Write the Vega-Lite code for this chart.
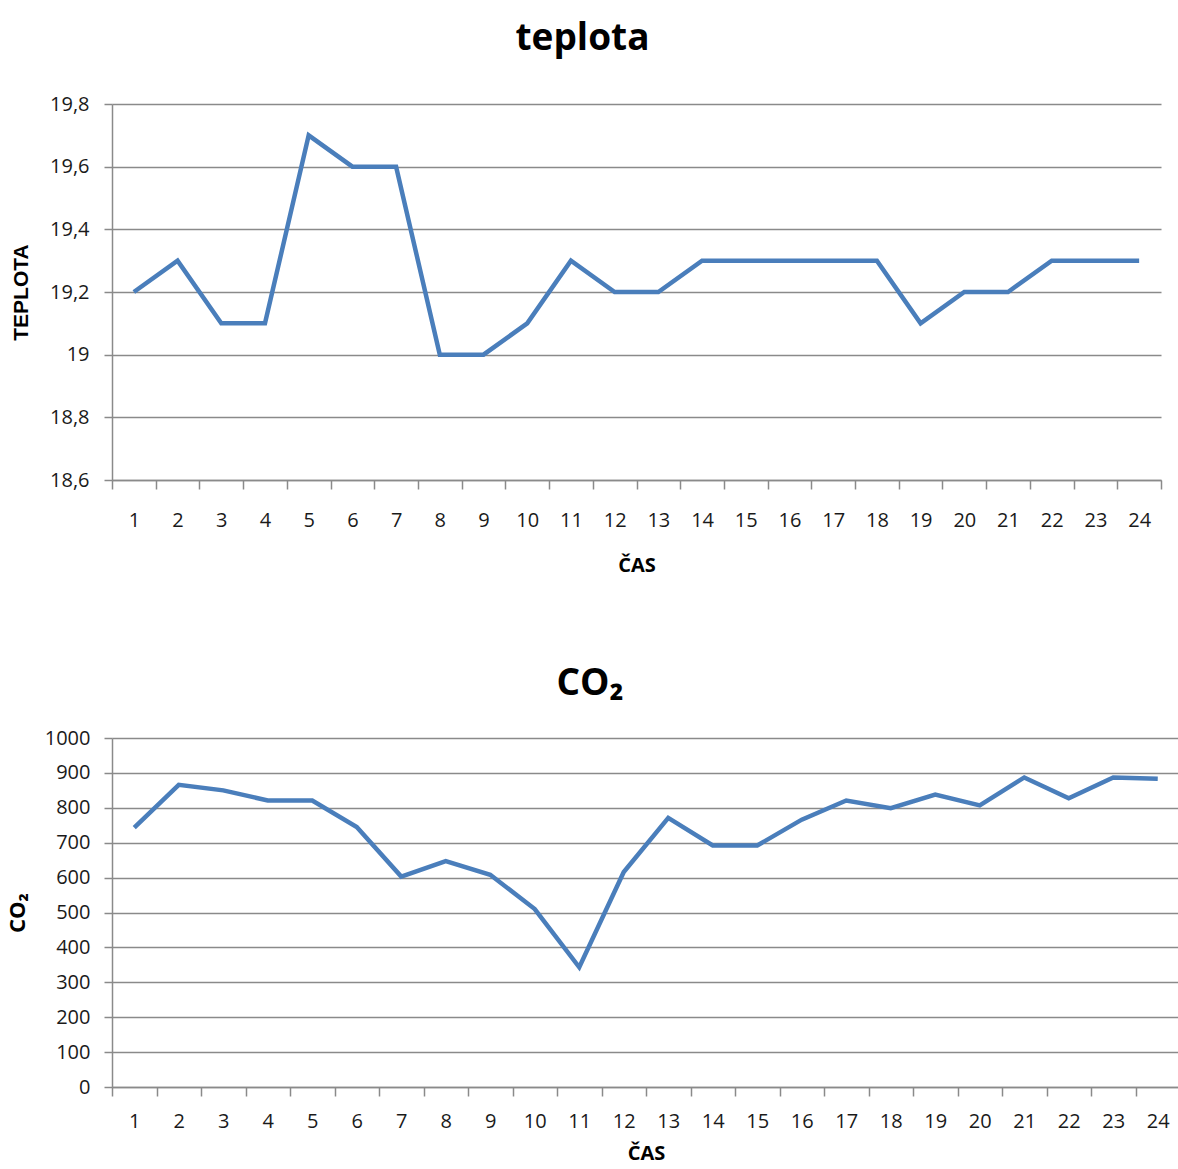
{
  "$schema": "https://vega.github.io/schema/vega-lite/v6.json",
  "padding": {"left": 6, "top": 20, "right": 0, "bottom": 6},
  "background": "white",
  "datasets": {
    "teplota": [
      {"cas": 1, "teplota": 19.2}, {"cas": 2, "teplota": 19.3}, {"cas": 3, "teplota": 19.1}, {"cas": 4, "teplota": 19.1},
      {"cas": 5, "teplota": 19.7}, {"cas": 6, "teplota": 19.6}, {"cas": 7, "teplota": 19.6}, {"cas": 8, "teplota": 19.0},
      {"cas": 9, "teplota": 19.0}, {"cas": 10, "teplota": 19.1}, {"cas": 11, "teplota": 19.3}, {"cas": 12, "teplota": 19.2},
      {"cas": 13, "teplota": 19.2}, {"cas": 14, "teplota": 19.3}, {"cas": 15, "teplota": 19.3}, {"cas": 16, "teplota": 19.3},
      {"cas": 17, "teplota": 19.3}, {"cas": 18, "teplota": 19.3}, {"cas": 19, "teplota": 19.1}, {"cas": 20, "teplota": 19.2},
      {"cas": 21, "teplota": 19.2}, {"cas": 22, "teplota": 19.3}, {"cas": 23, "teplota": 19.3}, {"cas": 24, "teplota": 19.3}
    ],
    "co2": [
      {"cas": 1, "co2": 743}, {"cas": 2, "co2": 866}, {"cas": 3, "co2": 850}, {"cas": 4, "co2": 821},
      {"cas": 5, "co2": 821}, {"cas": 6, "co2": 745}, {"cas": 7, "co2": 603}, {"cas": 8, "co2": 647},
      {"cas": 9, "co2": 608}, {"cas": 10, "co2": 510}, {"cas": 11, "co2": 343}, {"cas": 12, "co2": 616},
      {"cas": 13, "co2": 771}, {"cas": 14, "co2": 692}, {"cas": 15, "co2": 692}, {"cas": 16, "co2": 766},
      {"cas": 17, "co2": 821}, {"cas": 18, "co2": 799}, {"cas": 19, "co2": 838}, {"cas": 20, "co2": 807},
      {"cas": 21, "co2": 887}, {"cas": 22, "co2": 827}, {"cas": 23, "co2": 887}, {"cas": 24, "co2": 883}
    ]
  },
  "bounds": "flush",
  "spacing": 258,
  "config": {
    "view": {"stroke": null},
    "font": "Open Sans",
    "axis": {
      "labelFont": "Open Sans", "labelFontSize": 20, "labelColor": "#1a1a1a",
      "titleFont": "Open Sans", "titleFontWeight": "bold", "titleFontSize": 20, "titleColor": "#000",
      "domainColor": "#8a8a8a", "domainWidth": 1.5, "tickColor": "#8a8a8a", "tickWidth": 1.5, "tickSize": 8,
      "gridColor": "#8a8a8a", "gridWidth": 1.5
    },
    "title": {"font": "Open Sans", "fontWeight": "bold", "color": "#000", "anchor": "middle"}
  },
  "vconcat": [
    {
      "title": {"text": "teplota", "fontSize": 37, "offset": 36, "dx": -54},
      "width": 1049,
      "height": 376,
      "data": {"name": "teplota"},
      "mark": {"type": "line", "color": "#4A7EBB", "strokeWidth": 4.5, "strokeJoin": "miter"},
      "encoding": {
        "x": {
          "field": "cas", "type": "ordinal", "title": "ČAS",
          "scale": {"type": "band", "paddingInner": 0, "paddingOuter": 0},
          "axis": {"labelAngle": 0, "tickBand": "extent", "grid": false, "labelPadding": 21, "titlePadding": 25, "tickSize": 9}
        },
        "y": {
          "field": "teplota", "type": "quantitative", "title": "TEPLOTA",
          "scale": {"domain": [18.6, 19.8], "nice": false, "zero": false},
          "axis": {"values": [18.6, 18.8, 19.0, 19.2, 19.4, 19.6, 19.8], "labelExpr": "replace(format(datum.value, '.1~f'), '.', ',')",
                   "labelPadding": 15, "titleX": -91, "titleBaseline": "middle", "titleFont": "Liberation Sans", "titleFontSize": 21, "domain": true}
        }
      }
    },
    {
      "title": {"text": "CO₂", "fontSize": 37, "offset": 25, "dx": -56},
      "width": 1068,
      "height": 349,
      "data": {"name": "co2"},
      "mark": {"type": "line", "color": "#4A7EBB", "strokeWidth": 4.5, "strokeJoin": "miter"},
      "encoding": {
        "x": {
          "field": "cas", "type": "ordinal", "title": "ČAS",
          "scale": {"type": "band", "paddingInner": 0, "paddingOuter": 0},
          "axis": {"labelAngle": 0, "tickBand": "extent", "grid": false, "labelPadding": 15, "titlePadding": 12, "tickSize": 9}
        },
        "y": {
          "field": "co2", "type": "quantitative", "title": "CO₂",
          "scale": {"domain": [0, 1000], "nice": false},
          "axis": {"values": [0, 100, 200, 300, 400, 500, 600, 700, 800, 900, 1000], "format": "d",
                   "labelPadding": 14, "titleX": -95, "titleBaseline": "middle", "titleFontSize": 22, "domain": true}
        }
      }
    }
  ]
}
